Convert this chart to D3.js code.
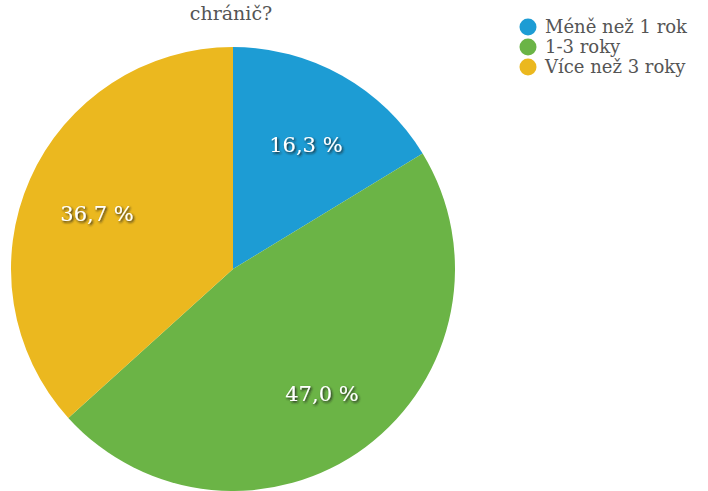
<!DOCTYPE html>
<html>
<head>
<meta charset="utf-8">
<script src="https://cdn.jsdelivr.net/npm/d3@7"></script>
<style>
  html, body { margin: 0; padding: 0; background: #fff; }
  svg { display: block; }
</style>
</head>
<body>
<div id="chart"></div>
<script>
// Survey answer categories and their shares (%)
const categories = ["Méně než 1 rok", "1-3 roky", "Více než 3 roky"];
const values = [16.3, 47.0, 36.7];
const valueLabels = ["16,3 %", "47,0 %", "36,7 %"];
const colors = ["#1d9cd4", "#6bb446", "#ebb81f"];
const titleLines = ["chránič?"];

const width = 708, height = 491;
const cx = 233, cy = 269, radius = 222;
const serif = "Georgia, 'DejaVu Serif', serif";

const svg = d3.select("#chart").append("svg")
  .attr("width", width).attr("height", height);

const defs = svg.append("defs");
const shadow = defs.append("filter").attr("id", "lblShadow")
  .attr("x", "-20%").attr("y", "-30%").attr("width", "140%").attr("height", "160%");
shadow.append("feDropShadow")
  .attr("dx", 1.3).attr("dy", 1.5).attr("stdDeviation", 0.9)
  .attr("flood-color", "#1e1e1e").attr("flood-opacity", 0.95);

// Title (last line of a longer question)
svg.append("g").selectAll("text").data(titleLines).join("text")
  .attr("x", cx - 2).attr("y", (d, i) => 20 + i * 24)
  .attr("text-anchor", "middle")
  .attr("font-family", serif).attr("font-size", 19)
  .attr("fill", "#555")
  .text(d => d);

const data = categories.map((c, i) => ({ name: c, value: values[i], label: valueLabels[i], color: colors[i] }));

const pie = d3.pie().sort(null).value(d => d.value);
const arc = d3.arc().innerRadius(0).outerRadius(radius);
const labelArc = d3.arc().innerRadius(radius * 0.67).outerRadius(radius * 0.67);

const g = svg.append("g").attr("transform", `translate(${cx},${cy})`);
const arcs = pie(data);

g.selectAll("path").data(arcs).join("path")
  .attr("d", arc)
  .attr("fill", d => d.data.color);

g.selectAll("text").data(arcs).join("text")
  .attr("transform", d => `translate(${labelArc.centroid(d)})`)
  .attr("text-anchor", "middle")
  .attr("dy", "0.6em")
  .attr("font-family", serif).attr("font-size", 21)
  .attr("fill", "#fff")
  .attr("filter", "url(#lblShadow)")
  .text(d => d.data.label);

// Legend
const legend = svg.append("g").attr("transform", "translate(528,27)");
const items = legend.selectAll("g").data(data).join("g")
  .attr("transform", (d, i) => `translate(0,${i * 20})`);
items.append("circle").attr("r", 8.5).attr("fill", d => d.color);
items.append("text")
  .attr("x", 17).attr("dy", "0.36em")
  .attr("font-family", serif).attr("font-size", 18)
  .attr("fill", "#555")
  .text(d => d.name);
</script>
</body>
</html>
